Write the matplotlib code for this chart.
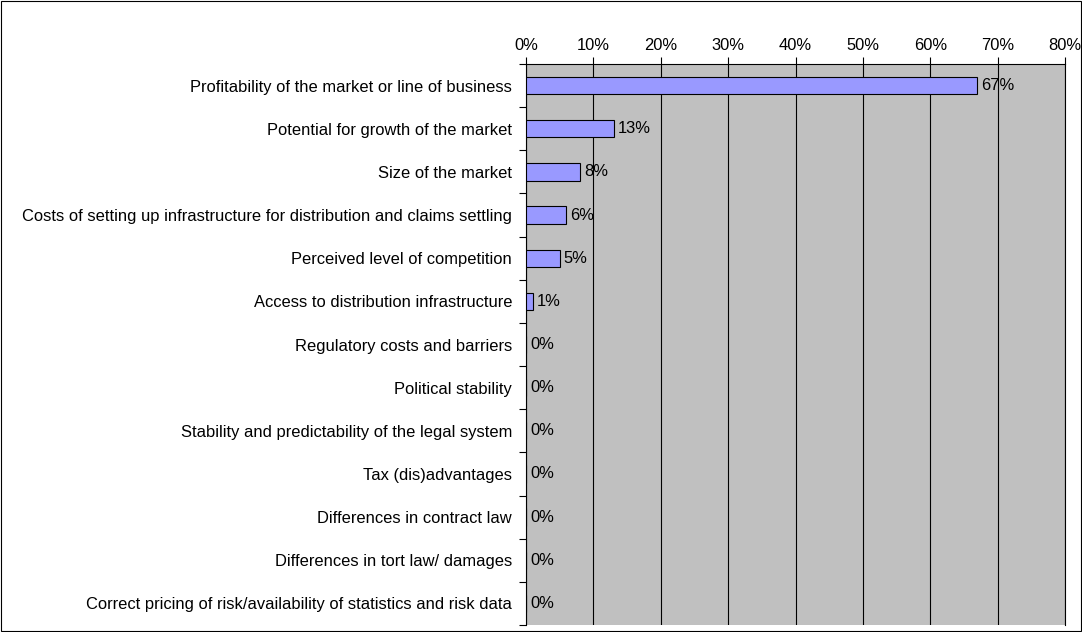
import matplotlib.pyplot as plt
from matplotlib.patches import Rectangle
from matplotlib.ticker import FixedLocator, PercentFormatter

factors = [
    'Profitability of the market or line of business',
    'Potential for growth of the market',
    'Size of the market',
    'Costs of setting up infrastructure for distribution and claims settling',
    'Perceived level of competition',
    'Access to distribution infrastructure',
    'Regulatory costs and barriers',
    'Political stability',
    'Stability and predictability of the legal system',
    'Tax (dis)advantages',
    'Differences in contract law',
    'Differences in tort law/ damages',
    'Correct pricing of risk/availability of statistics and risk data',
]
shares = [67, 13, 8, 6, 5, 1, 0, 0, 0, 0, 0, 0, 0]
x_ticks = [0, 10, 20, 30, 40, 50, 60, 70, 80]

plt.rcParams['font.family'] = ['Liberation Sans', 'DejaVu Sans']
fs = 11.9

fig = plt.figure(figsize=(10.82, 6.32), dpi=100)
ax = fig.add_axes([526 / 1082, 7 / 632, (1065 - 526) / 1082, (625 - 64) / 632])
ax.set_facecolor('#C0C0C0')

pos = list(range(len(factors)))
ax.barh(pos, shares, height=0.4, color='#9999FF', edgecolor='black',
        linewidth=0.8, zorder=3)
for y, v in zip(pos, shares):
    ax.text(v + 0.6, y, f'{v}%', va='center', ha='left', fontsize=fs, zorder=4)

ax.set_xlim(0, 80)
ax.set_ylim(len(factors) - 0.5, -0.5)
ax.xaxis.set_major_locator(FixedLocator(x_ticks))
ax.xaxis.set_major_formatter(PercentFormatter(decimals=0))
ax.xaxis.tick_top()
ax.tick_params(axis='x', direction='out', length=5, width=0.8, pad=3, labelsize=fs)
ax.grid(axis='x', color='black', linewidth=0.8, zorder=1)

# category names as labels, boundaries as tick marks
ax.set_yticks(pos)
ax.set_yticklabels(factors, fontsize=fs)
ax.tick_params(axis='y', length=0, pad=10)
ax.set_yticks([p + 0.5 for p in pos[:-1]] + [-0.5, len(factors) - 0.5], minor=True)
ax.tick_params(axis='y', which='minor', direction='out', length=5, width=0.8)

for side in ['top', 'left', 'right']:
    ax.spines[side].set_color('black')
    ax.spines[side].set_linewidth(0.8)
ax.spines['bottom'].set_visible(False)

fig.patches.append(Rectangle((0.001, 0.001), 0.998, 0.997, transform=fig.transFigure,
                             fill=False, edgecolor='black', linewidth=0.8))

fig.savefig('out.png', dpi=100)
